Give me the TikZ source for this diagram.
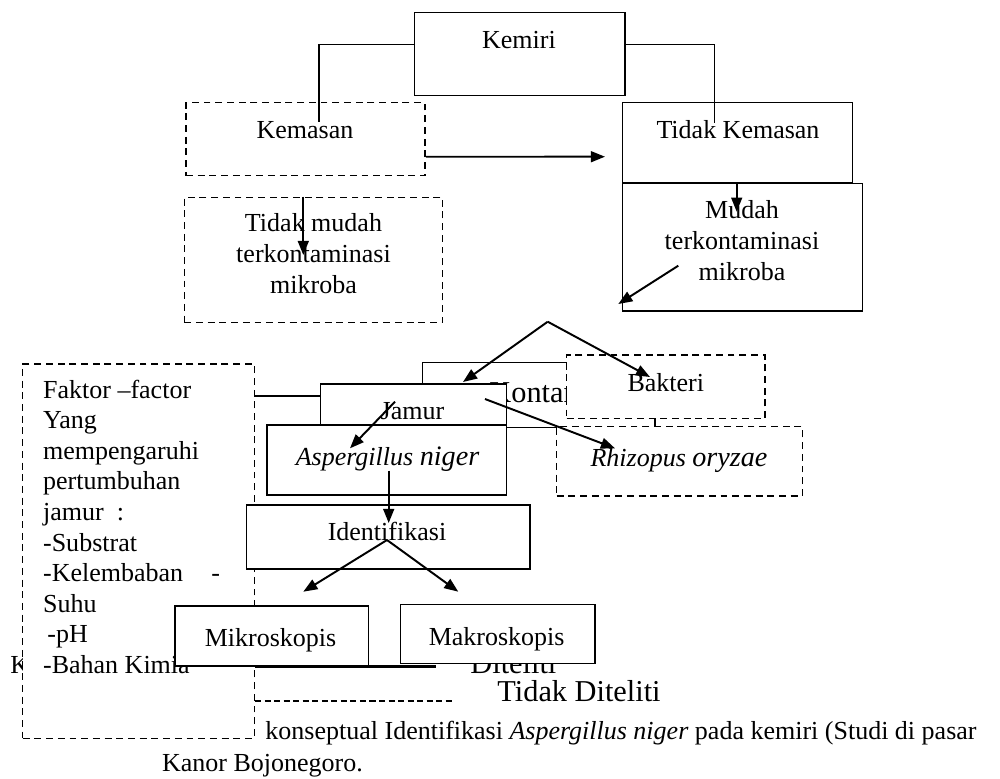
\documentclass[tikz,border=0pt]{standalone}
\usepackage{fontspec}
\setmainfont{Liberation Serif}
\usetikzlibrary{arrows.meta,fit}

\tikzset{
  box/.style={draw, line width=0.7pt, inner sep=0pt, fill=white},
  dbox/.style={box, dash pattern=on 3.2pt off 2.2pt},
  conn/.style={line width=0.6pt},
  arr/.style={-{Triangle[length=6.5pt,width=5pt]}, line width=0.9pt},
  lbl/.style={inner sep=0pt, anchor=base, align=center, font=\fontsize{12}{14.2}\selectfont},
  big/.style={inner sep=0pt, anchor=base west, font=\fontsize{14}{16}\selectfont},
}

\begin{document}
\begin{tikzpicture}[x=0.4615pt, y=-0.4615pt]
\useasboundingbox (0,0) rectangle (1000,778);

% kemiri and packaging
\node[box, fit={(414.3,12.3) (625,95.7)}] (kemiri) {};
\node[lbl] (kemiriT) at (519,48) {Kemiri};
\node[dbox, fit={(186,102.7) (425,175.7)}] (kemasan) {};
\node[lbl] (kemasanT) at (305,138) {Kemasan};
\node[box, fit={(622.3,102.5) (852.7,182.7)}] (tkemasan) {};
\node[lbl] (tkemasanT) at (738,138) {Tidak Kemasan};
\node[dbox, fit={(184.3,197.3) (442.7,322.7)}] (tmudah) {};
\node[lbl] (tmudahT) at (313.5,293.3) {Tidak mudah\\terkontaminasi\\mikroba};
\node[box, fit={(622.3,183.3) (862.7,311)}] (mudah) {};
\node[lbl] (mudahT) at (742,280) {Mudah\\terkontaminasi\\mikroba};

\coordinate (kemL) at (319,122);
\coordinate (kemR) at (714.3,123.3);
\draw[conn] ([yshift=4.5pt]kemiri.west) -| (kemL);
\draw[conn] ([yshift=4.5pt]kemiri.east) -| (kemR);

% contamination
\node[box, fit={(422.7,362.7) (655,427.7)}] (kontam) {};
\node[big] (kontamT) at (489,402) {Kontaminasi};
\node[box, fit={(320.7,384) (506.7,425)}] (jamur) {};
\node[lbl] (jamurT) at (412.5,419.5) {Jamur};
\node[box, fit={(266.8,425) (506.7,495)}] (asper) {};
\node[lbl] (asperT) at (387.5,465) {\itshape Aspergillus {\fontsize{13}{14}\selectfont niger}};
\node[dbox, fit={(566.7,355) (765,418.7)}] (bakteri) {};
\node[lbl] (bakteriT) at (665.8,391) {Bakteri};
\node[dbox, fit={(556.7,426.7) (802.3,496)}] (rhizo) {};
\node[lbl] (rhizoT) at (679,466.7) {\itshape Rhizopus {\fontsize{13}{14}\selectfont oryzae}};

% legend and caption
\node[lbl, anchor=base west] (ketK) at (10,673.3) {K};
\node[big] (ditelitiT) at (470,673) {Diteliti};
\node[big] (tdkT) at (497,701) {Tidak Diteliti};
\node[lbl, anchor=base west] (capA) at (265,739.3) {konseptual Identifikasi \textit{Aspergillus niger} pada kemiri (Studi di pasar};
\node[lbl, anchor=base west] (capB) at (161.7,771) {Kanor Bojonegoro.};

% factors
\node[dbox, fit={(22.7,364) (254.3,738.3)}] (faktor) {};
\foreach \t [count=\i from 0] in {Faktor –factor, Yang, mempengaruhi, pertumbuhan, jamur~~:,
  -Substrat, -Kelembaban\hspace{13pt}-, Suhu, \hspace{2pt}-pH, -Bahan Kimia}
  \node[lbl, anchor=base west] (f\i) at (42.7,{398+30.6*\i}) {\t};

\coordinate (legA) at (436,666.7);
\coordinate (legB) at (455,701);
\draw[line width=1.4pt] (faktor.east |- legA) -- (legA);
\draw[conn, dash pattern=on 2.8pt off 1.6pt] (faktor.east |- legB) -- (legB);
\draw[line width=1pt] ([yshift=4pt]jamur.west) -- ([yshift=4pt]jamur.west -| faktor.east);

% identification
\node[box, fit={(246.7,505) (530,569)}] (ident) {};
\node[lbl] (identT) at (387,540) {Identifikasi};
\node[box, fit={(175,606) (368.3,666)}] (mikro) {};
\node[lbl] (mikroT) at (270.5,646.7) {Mikroskopis};
\node[box, fit={(400.7,604.3) (595,663.3)}] (makro) {};
\node[lbl] (makroT) at (496.7,645) {Makroskopis};

% arrows
\coordinate (tuju) at (605,156.7);
\coordinate (tmA) at (303.3,255);
\coordinate (mA) at (736.7,211.7);
\coordinate (mB) at (678.3,265.7);
\coordinate (mC) at (618.3,304);
\coordinate (apex) at (547.7,321.7);
\coordinate (keJamur) at (463,382);
\coordinate (keBakteri) at (650,377);
\coordinate (jA) at (395,401.7);
\coordinate (jB) at (350,448.3);
\coordinate (jC) at (485,399);
\coordinate (jD) at (615,448.3);
\coordinate (aA) at (388.7,470.7);
\coordinate (aB) at (388.7,523);
\coordinate (iB) at (303.3,591.7);
\coordinate (iC) at (458.3,591.7);

\draw[arr] ([yshift=-8.1pt]kemasan.east) -- (tuju);
\draw[arr] (tmudah.north -| tmA) -- (tmA);
\draw[arr] (mudah.north -| mA) -- (mA);
\draw[arr] (mB) -- (mC);
\draw[arr] (apex) -- (keJamur);
\draw[arr] (apex) -- (keBakteri);
\draw[arr] (jA) -- (jB);
\draw[arr] (jC) -- (jD);
\draw[arr] (aA) -- (aB);
\draw[arr] (identT.base) -- (iB);
\draw[arr] (identT.base) -- (iC);
\end{tikzpicture}
\end{document}
